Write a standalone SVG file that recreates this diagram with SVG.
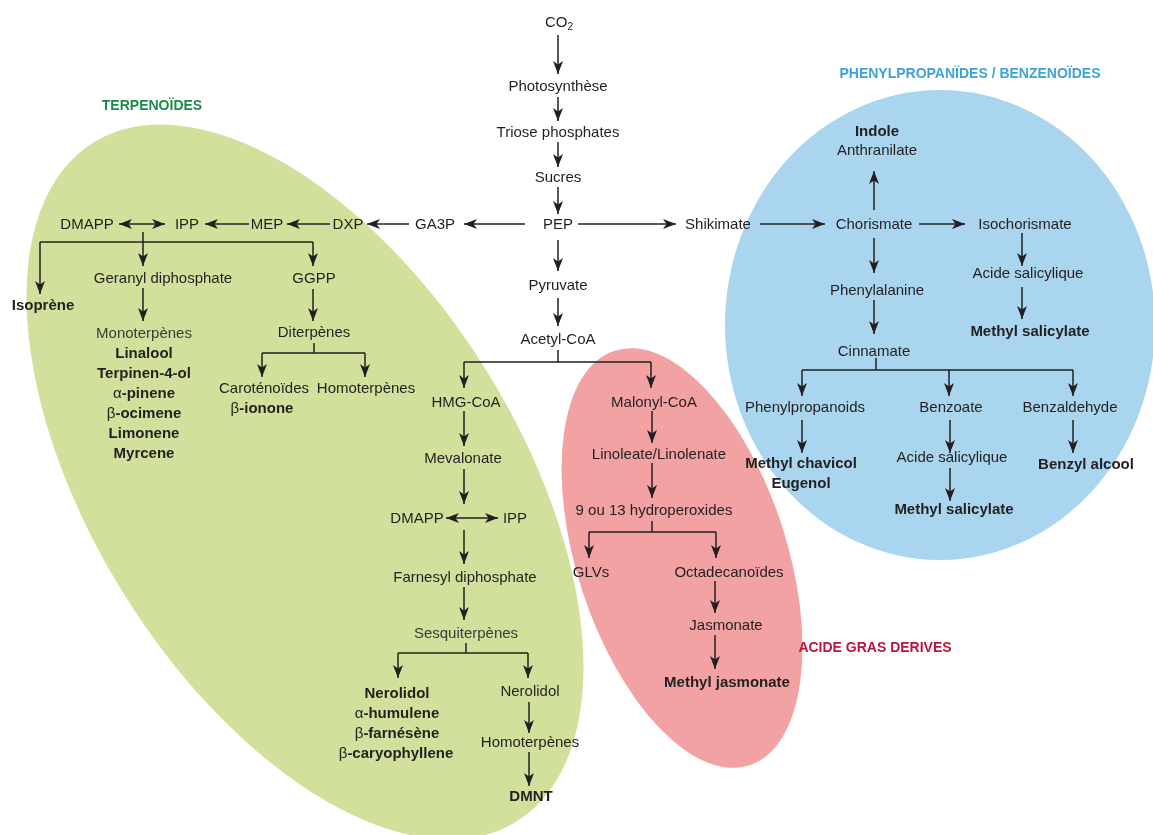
<svg xmlns="http://www.w3.org/2000/svg" width="1153" height="835" viewBox="0 0 1153 835">
<defs>
<style>
text{font-family:"Liberation Sans",Arial,sans-serif;font-size:15px;fill:#231f20;text-anchor:middle}
.b{font-weight:bold}
.n{font-weight:normal}
.g{fill:#3a3a3a}
.t{font-weight:bold;font-size:14px}
.c path{fill:none;stroke:#231f20;stroke-width:1.5}
.c .a{marker-end:url(#ah)}
.c .d{marker-start:url(#ah);marker-end:url(#ah)}
</style>
<marker id="ah" markerUnits="userSpaceOnUse" markerWidth="15" markerHeight="11" refX="13" refY="5" orient="auto-start-reverse">
<path d="M0,0 L13,5 L0,10 L3.5,5 z" fill="#231f20"/>
</marker>
</defs>
<rect width="1153" height="835" fill="#ffffff"/>
<g id="regions">
<ellipse cx="305" cy="482" rx="400" ry="213" transform="rotate(58 305 482)" fill="#d1e19c"/>
<ellipse cx="940" cy="325" rx="215" ry="235" fill="#a9d5ee"/>
<ellipse cx="682" cy="558" rx="218" ry="105" transform="rotate(72 682 558)" fill="#f2a2a2" style="mix-blend-mode:multiply"/>
</g>
<g id="titles">
<text class="t" x="152" y="110" style="fill:#1c8a4c">TERPENOÏDES</text>
<text class="t" x="970" y="78" style="fill:#3ea2d8">PHENYLPROPANÏDES / BENZENOÏDES</text>
<text class="t" x="875" y="652" style="fill:#b8163c">ACIDE GRAS DERIVES</text>
</g>
<g class="c" id="connectors">
<path class="a" d="M558,35 V74"/>
<path class="a" d="M558,97 V121"/>
<path class="a" d="M558,142 V167"/>
<path class="a" d="M558,187 V214"/>
<path class="a" d="M525,224 H464"/>
<path class="a" d="M578,224 H676"/>
<path class="a" d="M409,224 H367"/>
<path class="a" d="M330,224 H287"/>
<path class="a" d="M249,224 H205"/>
<path class="d" d="M119,224 H165"/>
<path class="a" d="M143,232 V266"/>
<path d="M40,242 H313"/>
<path class="a" d="M40,242 V294"/>
<path class="a" d="M313,242 V266"/>
<path class="a" d="M143,288 V321"/>
<path class="a" d="M313,289 V321"/>
<path d="M314,343 V353 M262,353 H365"/>
<path class="a" d="M262,353 V377"/>
<path class="a" d="M365,353 V377"/>
<path class="a" d="M558,240 V271"/>
<path class="a" d="M558,298 V326"/>
<path d="M558,350 V362 M464,362 H651"/>
<path class="a" d="M464,362 V388"/>
<path class="a" d="M651,362 V388"/>
<path class="a" d="M464,411 V446"/>
<path class="a" d="M464,469 V504"/>
<path class="d" d="M446,518 H498"/>
<path class="a" d="M464,530 V564"/>
<path class="a" d="M464,587 V620"/>
<path d="M466,643 V653 M398,653 H528"/>
<path class="a" d="M398,653 V678"/>
<path class="a" d="M528,653 V678"/>
<path class="a" d="M529,702 V733"/>
<path class="a" d="M529,752 V786"/>
<path class="a" d="M652,411 V443"/>
<path class="a" d="M652,463 V498"/>
<path d="M652,521 V532 M589,532 H716"/>
<path class="a" d="M589,532 V558"/>
<path class="a" d="M716,532 V558"/>
<path class="a" d="M715,581 V613"/>
<path class="a" d="M715,635 V669"/>
<path class="a" d="M760,224 H825"/>
<path class="a" d="M874,210 V171"/>
<path class="a" d="M919,224 H965"/>
<path class="a" d="M1022,233 V266"/>
<path class="a" d="M1022,287 V319"/>
<path class="a" d="M874,238 V273"/>
<path class="a" d="M874,300 V334"/>
<path d="M876,358 V370 M802,370 H1073"/>
<path class="a" d="M802,370 V396"/>
<path class="a" d="M949,370 V396"/>
<path class="a" d="M1073,370 V396"/>
<path class="a" d="M802,420 V453"/>
<path class="a" d="M950,420 V453"/>
<path class="a" d="M1073,420 V453"/>
<path class="a" d="M950,468 V501"/>
</g>
<g id="co2"><text x="559" y="27">CO<tspan font-size="10" dy="3">2</tspan></text></g>
<g id="photosynthese"><text x="558" y="91">Photosynthèse</text></g>
<g id="triose"><text x="558" y="137">Triose phosphates</text></g>
<g id="sucres"><text x="558" y="182">Sucres</text></g>
<g id="pep"><text x="558" y="229">PEP</text></g>
<g id="ga3p"><text x="435" y="229">GA3P</text></g>
<g id="dxp"><text x="348" y="229">DXP</text></g>
<g id="mep"><text x="267" y="229">MEP</text></g>
<g id="ipp1"><text x="187" y="229">IPP</text></g>
<g id="dmapp1"><text x="87" y="229">DMAPP</text></g>
<g id="isoprene"><text class="b" x="43" y="310">Isoprène</text></g>
<g id="geranyl"><text x="163" y="283">Geranyl diphosphate</text></g>
<g id="ggpp"><text x="314" y="283">GGPP</text></g>
<g id="monoterpenes">
<text class="g" x="144" y="338">Monoterpènes</text>
<text class="b" x="144" y="358">Linalool</text>
<text class="b" x="144" y="378">Terpinen-4-ol</text>
<text class="b" x="144" y="398"><tspan class="n">α</tspan>-pinene</text>
<text class="b" x="144" y="418"><tspan class="n">β</tspan>-ocimene</text>
<text class="b" x="144" y="438">Limonene</text>
<text class="b" x="144" y="458">Myrcene</text>
</g>
<g id="diterpenes"><text x="314" y="337">Diterpènes</text></g>
<g id="carotenoides">
<text x="264" y="393">Caroténoïdes</text>
<text class="b" x="262" y="413"><tspan class="n">β</tspan>-ionone</text>
</g>
<g id="homoterpenes1"><text x="366" y="393">Homoterpènes</text></g>
<g id="pyruvate"><text x="558" y="290">Pyruvate</text></g>
<g id="acetylcoa"><text x="558" y="344">Acetyl-CoA</text></g>
<g id="hmgcoa"><text x="466" y="407">HMG-CoA</text></g>
<g id="mevalonate"><text x="463" y="463">Mevalonate</text></g>
<g id="dmapp2"><text x="417" y="523">DMAPP</text></g>
<g id="ipp2"><text x="515" y="523">IPP</text></g>
<g id="farnesyl"><text x="465" y="582">Farnesyl diphosphate</text></g>
<g id="sesquiterpenes"><text class="g" x="466" y="638">Sesquiterpènes</text></g>
<g id="nerolidol1">
<text class="b" x="397" y="698">Nerolidol</text>
<text class="b" x="397" y="718"><tspan class="n">α</tspan>-humulene</text>
<text class="b" x="397" y="738"><tspan class="n">β</tspan>-farnésène</text>
<text class="b" x="396" y="758"><tspan class="n">β</tspan>-caryophyllene</text>
</g>
<g id="nerolidol2"><text x="530" y="696">Nerolidol</text></g>
<g id="homoterpenes2"><text x="530" y="747">Homoterpènes</text></g>
<g id="dmnt"><text class="b" x="531" y="801">DMNT</text></g>
<g id="malonylcoa"><text x="654" y="407">Malonyl-CoA</text></g>
<g id="linoleate"><text x="659" y="459">Linoleate/Linolenate</text></g>
<g id="hydroperoxides"><text x="654" y="515">9 ou 13 hydroperoxides</text></g>
<g id="glvs"><text x="591" y="577">GLVs</text></g>
<g id="octadecanoides"><text x="729" y="577">Octadecanoïdes</text></g>
<g id="jasmonate"><text x="726" y="630">Jasmonate</text></g>
<g id="methyljasmonate"><text class="b" x="727" y="687">Methyl jasmonate</text></g>
<g id="shikimate"><text x="718" y="229">Shikimate</text></g>
<g id="chorismate"><text x="874" y="229">Chorismate</text></g>
<g id="anthranilate">
<text class="b" x="877" y="136">Indole</text>
<text x="877" y="155">Anthranilate</text>
</g>
<g id="isochorismate"><text x="1025" y="229">Isochorismate</text></g>
<g id="acidesal1"><text x="1028" y="278">Acide salicylique</text></g>
<g id="methylsal1"><text class="b" x="1030" y="336">Methyl salicylate</text></g>
<g id="phenylalanine"><text x="877" y="295">Phenylalanine</text></g>
<g id="cinnamate"><text x="874" y="356">Cinnamate</text></g>
<g id="phenylpropanoids"><text x="805" y="412">Phenylpropanoids</text></g>
<g id="benzoate"><text x="951" y="412">Benzoate</text></g>
<g id="benzaldehyde"><text x="1070" y="412">Benzaldehyde</text></g>
<g id="methylchavicol">
<text class="b" x="801" y="468">Methyl chavicol</text>
<text class="b" x="801" y="488">Eugenol</text>
</g>
<g id="acidesal2"><text x="952" y="462">Acide salicylique</text></g>
<g id="methylsal2"><text class="b" x="954" y="514">Methyl salicylate</text></g>
<g id="benzylalcool"><text class="b" x="1086" y="469">Benzyl alcool</text></g>
</svg>
